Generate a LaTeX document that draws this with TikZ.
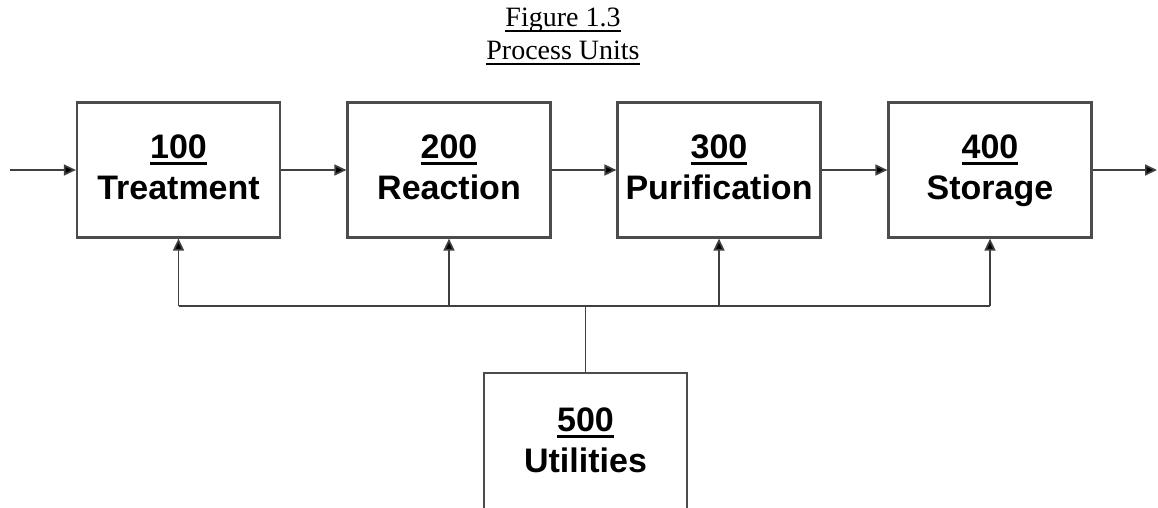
\documentclass[tikz,border=0pt]{standalone}
\usepackage{fontspec}
\setmainfont{Liberation Serif}
\newfontfamily\unitfont{Liberation Sans}
\usetikzlibrary{arrows.meta, positioning}

\newcommand{\ulbar}[3]{\setbox0=\hbox{#3}\rlap{\rule[-#1]{\wd0}{#2}}\box0}

\tikzset{
	unit/.style={draw=black!70, line width=2.2pt, minimum width=203pt, minimum height=135pt,
		align=center, text depth=5pt, font=\unitfont\bfseries\fontsize{34}{41}\selectfont},
	flow/.style={draw=black!75, line width=1.7pt, -{Triangle[length=12pt,width=11pt,fill=black]}},
	pipe/.style={draw=black!75, line width=1.7pt}
}

\begin{document}
\begin{tikzpicture}[x=1pt, y=-1pt]
	\path[use as bounding box, clip] (0,0) rectangle (1158,507);

	\node (Title) [align=center, text depth=0pt, font=\fontsize{28}{33}\selectfont] at (563,34)
		{\ulbar{5pt}{1.4pt}{Figure 1.3}\\\ulbar{5pt}{1.4pt}{Process Units}};

	\node (Treatment) [unit] at (178.5,170) {\ulbar{6pt}{2.6pt}{100}\\Treatment};
	\node (Reaction) [unit] at (449,170) {\ulbar{6pt}{2.6pt}{200}\\Reaction};
	\node (Purification) [unit] at (719,170) {\ulbar{6pt}{2.6pt}{300}\\Purification};
	\node (Storage) [unit] at (990,170) {\ulbar{6pt}{2.6pt}{400}\\Storage};
	\node (Utilities) [unit, minimum height=140pt] at (585.5,443) {\ulbar{6pt}{2.6pt}{500}\\Utilities};

	\coordinate (Feed) at (10,170);
	\coordinate (Product) at (1157,170);
	\draw[flow] (Feed) -- (Treatment);
	\draw[flow] (Treatment) -- (Reaction);
	\draw[flow] (Reaction) -- (Purification);
	\draw[flow] (Purification) -- (Storage);
	\draw[flow] (Storage) -- (Product);

	\coordinate (Header) at (585.5,306);
	\draw[pipe] (Utilities) -- (Header);
	\draw[pipe] (Treatment |- Header) -- (Storage |- Header);
	\foreach \u in {Treatment, Reaction, Purification, Storage}
		\draw[flow] (\u |- Header) -- (\u);
\end{tikzpicture}
\end{document}
